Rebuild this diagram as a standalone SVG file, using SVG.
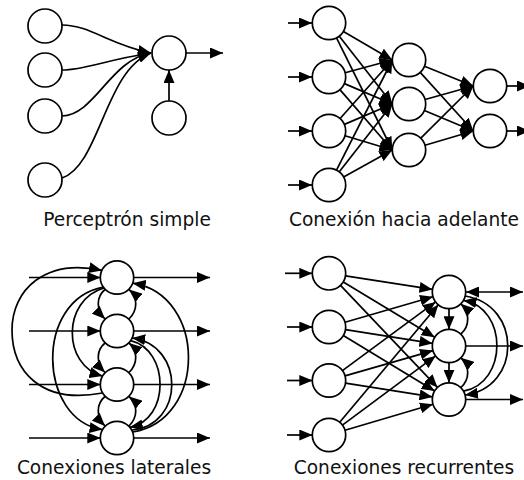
<svg xmlns="http://www.w3.org/2000/svg" width="524" height="480" viewBox="0 0 524 480">
<style>
.n{fill:#fff;stroke:#000;stroke-width:1.7}
.c path,.c line{fill:none;stroke:#000;stroke-width:1.7;marker-end:url(#a)}
.c .both{marker-start:url(#b)}
text{font-family:"DejaVu Sans","Liberation Sans",sans-serif;font-size:18.6px;fill:#111;text-anchor:middle}
</style>
<defs>
<marker id="a" markerUnits="userSpaceOnUse" markerWidth="13" markerHeight="11" viewBox="0 0 13 11" refX="13" refY="5.5" orient="auto">
<path d="M0,0 L13,5.5 L0,11 z" fill="#000"/>
</marker>
<marker id="b" markerUnits="userSpaceOnUse" markerWidth="13" markerHeight="11" viewBox="0 0 13 11" refX="0" refY="5.5" orient="auto">
<path d="M13,0 L0,5.5 L13,11 z" fill="#000"/>
</marker>
</defs>
<rect width="524" height="480" fill="#fff"/>

<!-- Panel 1: Perceptron simple -->
<g class="c" id="p1-connectors">
<path d="M62,25 C90,25 110,45 151,53"/>
<path d="M62,70 C85,70 105,60 151,53"/>
<path d="M62,116 C95,115 110,60 151,53"/>
<path d="M62,178 C100,165 105,70 151,53"/>
<line x1="186" y1="53" x2="223" y2="53"/>
<line x1="169" y1="101" x2="169" y2="70"/>
</g>
<g id="p1-in1"><circle class="n" cx="45" cy="26" r="17"/></g>
<g id="p1-in2"><circle class="n" cx="45" cy="70" r="17"/></g>
<g id="p1-in3"><circle class="n" cx="45" cy="116" r="17"/></g>
<g id="p1-in4"><circle class="n" cx="45" cy="180" r="17"/></g>
<g id="p1-out"><circle class="n" cx="169" cy="53" r="17"/></g>
<g id="p1-bias"><circle class="n" cx="169" cy="118" r="17"/></g>
<text x="127" y="225.5">Perceptrón simple</text>

<!-- Panel 2: Conexion hacia adelante -->
<g class="c" id="p2-connectors">
<line x1="288" y1="23" x2="312" y2="23"/>
<line x1="288" y1="77" x2="312" y2="77"/>
<line x1="288" y1="131" x2="312" y2="131"/>
<line x1="288" y1="185" x2="312" y2="185"/>
<line x1="343.4" y1="31.4" x2="392.3" y2="60"/>
<line x1="339.3" y1="36.2" x2="392.3" y2="104"/>
<line x1="336.5" y1="37.9" x2="392.3" y2="150"/>
<line x1="345.1" y1="72.7" x2="392.3" y2="60"/>
<line x1="344.4" y1="83.6" x2="392.3" y2="104"/>
<line x1="339.9" y1="89.6" x2="392.3" y2="150"/>
<line x1="340.1" y1="118.5" x2="392.3" y2="60"/>
<line x1="344.4" y1="124.4" x2="392.3" y2="104"/>
<line x1="345" y1="135.8" x2="392.3" y2="150"/>
<line x1="336.5" y1="170.1" x2="392.3" y2="60"/>
<line x1="339.3" y1="171.8" x2="392.3" y2="104"/>
<line x1="343.6" y1="176.9" x2="392.3" y2="150"/>
<line x1="424.5" y1="66.3" x2="473.3" y2="86"/>
<line x1="420.2" y1="72.4" x2="473.3" y2="131"/>
<line x1="425.1" y1="99.5" x2="473.3" y2="86"/>
<line x1="424.4" y1="110.5" x2="473.3" y2="131"/>
<line x1="420.8" y1="138.2" x2="473.3" y2="86"/>
<line x1="425" y1="145.3" x2="473.3" y2="131"/>
<line x1="507" y1="86" x2="530" y2="86"/>
<line x1="507" y1="131" x2="530" y2="131"/>
</g>
<g id="p2-i1"><circle class="n" cx="329" cy="23" r="16.7"/></g>
<g id="p2-i2"><circle class="n" cx="329" cy="77" r="16.7"/></g>
<g id="p2-i3"><circle class="n" cx="329" cy="131" r="16.7"/></g>
<g id="p2-i4"><circle class="n" cx="329" cy="185" r="16.7"/></g>
<g id="p2-h1"><circle class="n" cx="409" cy="60" r="16.7"/></g>
<g id="p2-h2"><circle class="n" cx="409" cy="104" r="16.7"/></g>
<g id="p2-h3"><circle class="n" cx="409" cy="150" r="16.7"/></g>
<g id="p2-o1"><circle class="n" cx="490" cy="86" r="16.7"/></g>
<g id="p2-o2"><circle class="n" cx="490" cy="131" r="16.7"/></g>
<text x="404" y="225.5">Conexión hacia adelante</text>

<!-- Panel 3: Conexiones laterales -->
<g class="c" id="p3-connectors">
<line x1="29" y1="277.5" x2="100.3" y2="277.5"/>
<line x1="29" y1="331" x2="100.3" y2="331"/>
<line x1="29" y1="384.5" x2="100.3" y2="384.5"/>
<line x1="29" y1="438" x2="100.3" y2="438"/>
<line x1="134" y1="277.5" x2="210" y2="277.5"/>
<line x1="134" y1="331" x2="210" y2="331"/>
<line x1="134" y1="384.5" x2="210" y2="384.5"/>
<line x1="134" y1="438" x2="210" y2="438"/>
<path d="M105,289.5 C96,297 96,310 105,319"/>
<path d="M105,343 C96,350.5 96,363.5 105,372.5"/>
<path d="M105,396.5 C96,404 96,417 105,426"/>
<path d="M129,319 C138,310 138,297 129,289.5"/>
<path d="M129,372.5 C138,363.5 138,350.5 129,343"/>
<path d="M129,426 C138,417 138,404 129,396.5"/>
<path d="M102.5,393 C40,405 12,370 12,330 C12,290 45,258 101.9,270.4"/>
<path d="M103.3,287.1 C34,300 38,420 102.5,429.6"/>
<path d="M104,288 C62,300 62,365 102.5,376.1"/>
<path d="M133,432 C207,420 207,295 132.7,283.2"/>
<path d="M132,430 C185,425 185,345 132.2,338"/>
<path d="M130.7,340.6 C170,350 170,420 129.8,427.3"/>
</g>
<g id="p3-n1"><circle class="n" cx="117" cy="277.5" r="16.7"/></g>
<g id="p3-n2"><circle class="n" cx="117" cy="331" r="16.7"/></g>
<g id="p3-n3"><circle class="n" cx="117" cy="384.5" r="16.7"/></g>
<g id="p3-n4"><circle class="n" cx="117" cy="438" r="16.7"/></g>
<text x="114" y="474">Conexiones laterales</text>

<!-- Panel 4: Conexiones recurrentes -->
<g class="c" id="p4-connectors">
<line x1="285" y1="273.3" x2="312.3" y2="273.3"/>
<line x1="287" y1="327" x2="312.3" y2="327"/>
<line x1="287" y1="380.5" x2="312.3" y2="380.5"/>
<line x1="287" y1="435" x2="312.3" y2="435"/>
<line x1="345.5" y1="275.9" x2="432.5" y2="289.4"/>
<line x1="343.3" y1="282" x2="434.7" y2="337.3"/>
<line x1="340.5" y1="285.4" x2="437.5" y2="387.4"/>
<line x1="345" y1="322.3" x2="433" y2="296.7"/>
<line x1="345.5" y1="329.6" x2="432.5" y2="343.4"/>
<line x1="343.3" y1="335.6" x2="434.7" y2="390.9"/>
<line x1="342.4" y1="370.6" x2="435.6" y2="301.9"/>
<line x1="345" y1="375.9" x2="433" y2="350.6"/>
<line x1="345.5" y1="383.1" x2="432.5" y2="396.9"/>
<line x1="339.7" y1="422.2" x2="438.3" y2="304.8"/>
<line x1="342.4" y1="425.1" x2="435.6" y2="355.9"/>
<line x1="345" y1="430.3" x2="433" y2="404.2"/>
<line class="both" x1="466" y1="292" x2="523" y2="292"/>
<line x1="466" y1="346" x2="523" y2="346"/>
<line x1="466" y1="399.5" x2="523" y2="399.5"/>
<line x1="449" y1="308.7" x2="449" y2="329.3"/>
<line x1="449" y1="362.7" x2="449" y2="382.8"/>
<path d="M460.8,334.2 C470,326 470,312 460.8,303.8"/>
<path d="M460.8,387.7 C470,379.5 470,365.5 460.8,357.8"/>
<path d="M465,296 C522,305 522,387 465,395"/>
<path d="M463.5,391.2 C508,383 508,308 463.5,300.4"/>
</g>
<g id="p4-i1"><circle class="n" cx="329" cy="273.3" r="16.7"/></g>
<g id="p4-i2"><circle class="n" cx="329" cy="327" r="16.7"/></g>
<g id="p4-i3"><circle class="n" cx="329" cy="380.5" r="16.7"/></g>
<g id="p4-i4"><circle class="n" cx="329" cy="435" r="16.7"/></g>
<g id="p4-o1"><circle class="n" cx="449" cy="292" r="16.7"/></g>
<g id="p4-o2"><circle class="n" cx="449" cy="346" r="16.7"/></g>
<g id="p4-o3"><circle class="n" cx="449" cy="399.5" r="16.7"/></g>
<text x="404" y="474">Conexiones recurrentes</text>
</svg>
